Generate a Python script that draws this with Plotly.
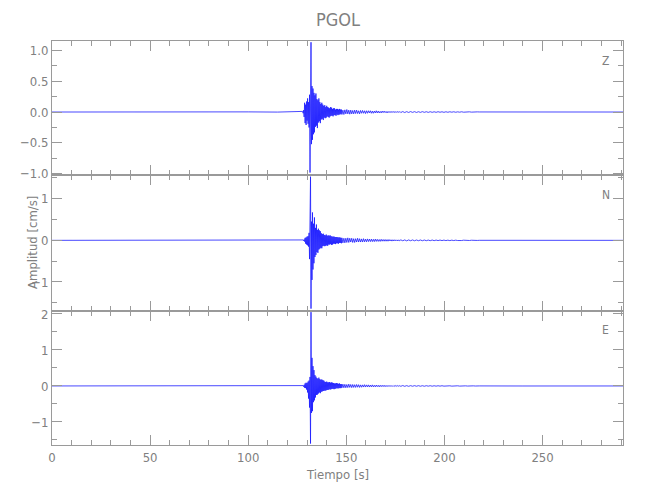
import numpy as np
import plotly.graph_objects as go

# ---------------- data ----------------
STATION = "PGOL"
COMPONENTS = ["Z", "N", "E"]
X_LABEL = "Tiempo [s]"
Y_LABEL = "Amplitud [cm/s]"
X_RANGE = [0.0, 291.0]
X_TICKS = [0, 50, 100, 150, 200, 250]

# sampling of the digitised record: (start time [s], sample interval [s]) per segment
SEG_A = (127.75, 0.25)
SEG_B = (147.75, 0.5)
SEG_C = (177.75, 1.0)
# quiet parts of the record (times, values)
PRE_T = [0.0, 20.0, 40.0, 60.0, 80.0, 100.0, 115.0, 127.5]
PRE_V = [0.0, 0.002, -0.002, 0.001, -0.002, 0.002, -0.001, 0.0]
POST_T = [217.75, 240.0, 260.0, 280.0, 291.0]
POST_V = [0.001, -0.001, 0.001, -0.001, 0.0]

Z_A = [0.01, -0.02, 0.03, -0.08, 0.15, -0.18, 0.12, -0.21, 0.17, -0.14,
       0.22, -0.19, 0.16, -0.25, 0.28, -0.98, 0.35, 1.13, -0.52, 0.42,
       -0.45, 0.38, -0.36, 0.31, -0.33, 0.27, -0.24, 0.30, -0.22, 0.21,
       -0.26, 0.19, -0.17, 0.22, -0.15, 0.16, -0.18, 0.13, -0.12, 0.15,
       -0.11, 0.12, -0.13, 0.10, -0.09, 0.11, -0.10, 0.08, -0.09, 0.10,
       -0.07, 0.08, -0.08, 0.07, -0.09, 0.06, -0.07, 0.08, -0.06, 0.07,
       -0.06, 0.05, -0.07, 0.06, -0.05, 0.06, -0.05, 0.04, -0.06, 0.05,
       -0.04, 0.05, -0.05, 0.04, -0.04, 0.05, -0.04, 0.04, -0.03, 0.04]
Z_B = [-0.04, 0.03, -0.04, 0.035, -0.03, 0.04, -0.03, 0.03, -0.035, 0.03,
       -0.03, 0.025, -0.03, 0.03, -0.025, 0.03, -0.025, 0.02, -0.03, 0.025,
       -0.02, 0.025, -0.02, 0.02, -0.025, 0.02, -0.02, 0.02, -0.015, 0.02,
       -0.02, 0.015, -0.02, 0.015, -0.015, 0.02, -0.015, 0.015, -0.015, 0.01,
       -0.015, 0.015, -0.01, 0.015, -0.01, 0.01, -0.015, 0.01, -0.01, 0.01,
       -0.01, 0.01, -0.008, 0.01, -0.01, 0.008, -0.008, 0.01, -0.008, 0.008]
Z_C = [-0.008, 0.007, -0.008, 0.006, -0.007, 0.007, -0.006, 0.006, -0.007, 0.005,
       -0.006, 0.006, -0.005, 0.005, -0.006, 0.005, -0.005, 0.004, -0.005, 0.005,
       -0.004, 0.004, -0.005, 0.004, -0.004, 0.004, -0.003, 0.004, -0.004, 0.003,
       -0.003, 0.004, -0.003, 0.003, -0.003, 0.003, -0.002, 0.003, -0.002, 0.002]

N_A = [0.0, 0.01, -0.01, 0.02, -0.03, 0.06, -0.08, 0.07, -0.10, 0.09,
       -0.12, 0.10, -0.15, 0.18, -0.45, 0.35, 1.53, -1.64, 0.45, -0.95,
       0.67, -0.70, 0.40, -0.55, 0.55, -0.40, 0.30, -0.35, 0.38, -0.28,
       0.25, -0.30, 0.28, -0.22, 0.24, -0.20, 0.22, -0.18, 0.17, -0.19,
       0.15, -0.14, 0.16, -0.13, 0.13, -0.14, 0.12, -0.13, 0.14, -0.12,
       0.11, -0.13, 0.12, -0.10, 0.11, -0.10, 0.12, -0.09, 0.10, -0.11,
       0.09, -0.10, 0.09, -0.08, 0.09, -0.08, 0.08, -0.09, 0.08, -0.07,
       0.08, -0.07, 0.07, -0.08, 0.07, -0.06, 0.07, -0.06, 0.06, -0.07]
N_B = [0.06, -0.06, 0.05, -0.06, 0.05, -0.05, 0.06, -0.05, 0.05, -0.04,
       0.05, -0.05, 0.04, -0.05, 0.04, -0.04, 0.05, -0.04, 0.04, -0.04,
       0.035, -0.04, 0.04, -0.035, 0.03, -0.035, 0.035, -0.03, 0.03, -0.03,
       0.03, -0.03, 0.025, -0.03, 0.03, -0.025, 0.025, -0.025, 0.02, -0.025,
       0.025, -0.02, 0.02, -0.02, 0.02, -0.02, 0.018, -0.02, 0.02, -0.015,
       0.015, -0.018, 0.015, -0.015, 0.015, -0.012, 0.012, -0.015, 0.012, -0.01]
N_C = [0.012, -0.01, 0.011, -0.012, 0.01, -0.009, 0.01, -0.01, 0.009, -0.008,
       0.009, -0.009, 0.008, -0.008, 0.007, -0.008, 0.008, -0.007, 0.007, -0.006,
       0.007, -0.006, 0.006, -0.006, 0.005, -0.006, 0.005, -0.005, 0.005, -0.004,
       0.005, -0.004, 0.004, -0.004, 0.004, -0.003, 0.003, -0.003, 0.003, -0.002]

E_A = [0.0, 0.01, -0.02, 0.03, -0.05, 0.07, -0.06, 0.09, -0.10, 0.08,
       -0.18, 0.12, -0.35, 0.15, -0.60, 0.25, -1.60, 2.05, -0.75, 0.78,
       -0.70, 0.55, -0.45, 0.44, -0.40, 0.30, -0.32, 0.26, -0.25, 0.22,
       -0.24, 0.20, -0.21, 0.23, -0.18, 0.19, -0.20, 0.17, -0.16, 0.18,
       -0.15, 0.16, -0.14, 0.15, -0.13, 0.12, -0.13, 0.11, -0.12, 0.12,
       -0.11, 0.10, -0.11, 0.10, -0.09, 0.11, -0.10, 0.09, -0.09, 0.10,
       -0.08, 0.09, -0.08, 0.08, -0.09, 0.07, -0.08, 0.07, -0.07, 0.08,
       -0.06, 0.07, -0.07, 0.06, -0.06, 0.07, -0.06, 0.05, -0.06, 0.05]
E_B = [-0.05, 0.05, -0.05, 0.045, -0.05, 0.04, -0.045, 0.05, -0.04, 0.04,
       -0.045, 0.04, -0.04, 0.035, -0.04, 0.04, -0.035, 0.035, -0.04, 0.03,
       -0.035, 0.03, -0.03, 0.035, -0.03, 0.03, -0.025, 0.03, -0.03, 0.025,
       -0.025, 0.03, -0.025, 0.02, -0.025, 0.025, -0.02, 0.02, -0.025, 0.02,
       -0.02, 0.02, -0.018, 0.02, -0.02, 0.015, -0.018, 0.015, -0.015, 0.015,
       -0.015, 0.012, -0.015, 0.012, -0.012, 0.012, -0.01, 0.012, -0.01, 0.01]
E_C = [-0.01, 0.011, -0.01, 0.009, -0.01, 0.009, -0.008, 0.009, -0.008, 0.008,
       -0.008, 0.007, -0.008, 0.007, -0.006, 0.007, -0.007, 0.006, -0.006, 0.006,
       -0.005, 0.006, -0.005, 0.005, -0.005, 0.004, -0.005, 0.004, -0.004, 0.004,
       -0.004, 0.003, -0.004, 0.003, -0.003, 0.003, -0.002, 0.003, -0.002, 0.002]

Y_RANGES = {"Z": [-1.02, 1.15], "N": [-1.69, 1.57], "E": [-1.64, 2.09]}
Y_DTICK = {"Z": 0.5, "N": 1.0, "E": 1.0}
Y_MINOR = {"Z": 0.25, "N": 0.5, "E": 0.5}
Y_FMT = {"Z": ".1f", "N": "d", "E": "d"}
SERIES = {"Z": (Z_A, Z_B, Z_C), "N": (N_A, N_B, N_C), "E": (E_A, E_B, E_C)}

# ---------------- build ----------------
def seg_times(seg, n):
    t0, dt = seg
    return t0 + dt * np.arange(n)

def trace_xy(parts):
    a, b, c = parts
    t = np.concatenate([PRE_T, seg_times(SEG_A, len(a)), seg_times(SEG_B, len(b)),
                        seg_times(SEG_C, len(c)), POST_T])
    v = np.concatenate([PRE_V, a, b, c, POST_V])
    return t, v

AX_COL = "#9a9a9a"
TXT_COL = "#808080"
FONT = "DejaVu Sans Condensed, Liberation Sans, sans-serif"

fig = go.Figure()
domains = {"Z": [0.6683, 1.0], "N": [0.3324, 0.6683], "E": [0.0, 0.3324]}

for i, comp in enumerate(COMPONENTS, start=1):
    t, v = trace_xy(SERIES[comp])
    fig.add_trace(go.Scatter(x=t, y=v, mode="lines",
                             line=dict(color="#1a1aff", width=0.8),
                             xaxis=f"x{i}", yaxis=f"y{i}", showlegend=False,
                             hoverinfo="skip"))
    xkey = "xaxis" if i == 1 else f"xaxis{i}"
    ykey = "yaxis" if i == 1 else f"yaxis{i}"
    fig.layout[xkey] = dict(
        anchor=f"y{i}", domain=[0, 1], range=X_RANGE,
        tickvals=X_TICKS, ticks="inside", ticklen=10, tickwidth=1,
        tickcolor=AX_COL, showline=True, linecolor=AX_COL, linewidth=1,
        mirror="allticks", showgrid=False, zeroline=False,
        showticklabels=(i == 3),
        tickfont=dict(family=FONT, size=13, color=TXT_COL),
        minor=dict(dtick=10, ticks="inside", ticklen=5, tickcolor=AX_COL, showgrid=False),
    )
    fig.layout[ykey] = dict(
        anchor=f"x{i}", domain=domains[comp], range=Y_RANGES[comp],
        dtick=Y_DTICK[comp], tick0=0, tickformat=Y_FMT[comp],
        ticks="inside", ticklen=10, tickwidth=1, tickcolor=AX_COL,
        showline=True, linecolor=AX_COL, linewidth=1, mirror="allticks",
        showgrid=False, zeroline=False,
        tickfont=dict(family=FONT, size=13, color=TXT_COL),
        minor=dict(dtick=Y_MINOR[comp], ticks="inside", ticklen=5, tickcolor=AX_COL, showgrid=False),
    )

ann = [
    dict(text=STATION, x=0.5, y=1.052, xref="paper", yref="paper", showarrow=False,
         font=dict(family=FONT, size=18, color=TXT_COL), yanchor="middle"),
    dict(text=X_LABEL, x=0.5, y=-0.073, xref="paper", yref="paper", showarrow=False,
         font=dict(family=FONT, size=13, color=TXT_COL), yanchor="middle"),
    dict(text=Y_LABEL, x=-0.035, y=0.5, xref="paper", yref="paper", showarrow=False,
         textangle=-90, font=dict(family=FONT, size=13, color=TXT_COL),
         xanchor="center", yanchor="middle"),
]
lab_y = {"Z": 0.950, "N": 0.619, "E": 0.285}
for comp in COMPONENTS:
    ann.append(dict(text=comp, x=0.97, y=lab_y[comp], xref="paper", yref="paper",
                    showarrow=False, font=dict(family=FONT, size=12, color=TXT_COL),
                    xanchor="center", yanchor="middle"))

# the page body adds an 8 px offset, so margins are shifted by 8 px
fig.update_layout(
    width=650, height=500,
    margin=dict(l=40, r=35, t=33, b=63),
    paper_bgcolor="white", plot_bgcolor="white",
    annotations=ann,
)

fig.write_html("out.html")
